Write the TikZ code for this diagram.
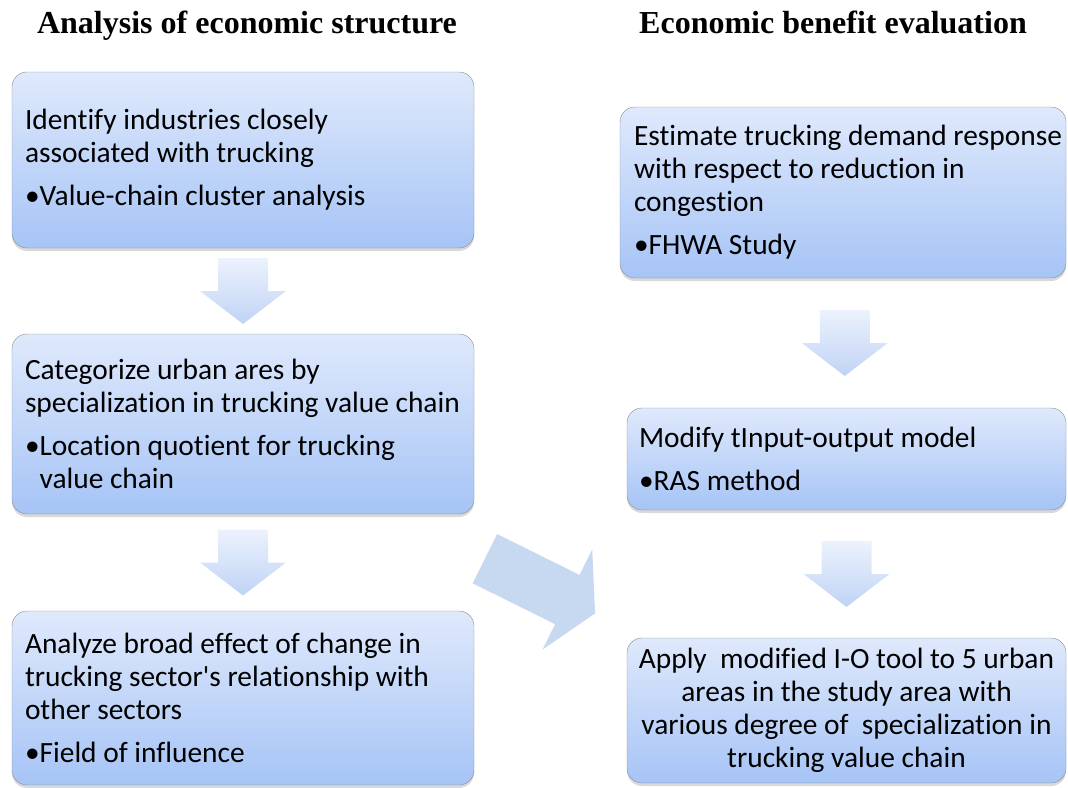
\documentclass[tikz,border=0pt]{standalone}
\usepackage{fontspec}
\setmainfont{Carlito}[Ligatures=NoCommon]
\newfontfamily\headfont{Liberation Serif}
\usetikzlibrary{positioning,calc,shadows}

\definecolor{boxtop}{RGB}{223,233,252}
\definecolor{boxbot}{RGB}{166,196,246}
\definecolor{boxline}{RGB}{140,140,140}
\definecolor{arrtop}{RGB}{236,242,253}
\definecolor{arrbot}{RGB}{192,211,245}
\definecolor{jumpblue}{RGB}{198,217,240}

\tikzset{
	stage/.style={draw=boxline, rounded corners=15pt, top color=boxtop, bottom color=boxbot,
		drop shadow={opacity=0.3, shadow xshift=0pt, shadow yshift=-3pt}},
	stagetext/.style={inner sep=0pt, align=left, font=\fontsize{29.4}{33}\selectfont},
	heading/.style={font=\headfont\bfseries\fontsize{32}{36}\selectfont, inner sep=0pt, anchor=base},
	pics/downarrow/.style={code={
		\shade[top color=arrtop, bottom color=arrbot] (-25,-33) -- (25,-33) -- (25,0) -- (43,0) -- (0,33) -- (-43,0) -- (-25,0) -- cycle;
	}}
}

\begin{document}
\begin{tikzpicture}[x=1pt,y=-1pt]
		\useasboundingbox (0,0) rectangle (1068,787);

		\node[heading] (lhead) at (247,33) {Analysis of economic structure};
		\node[heading] (rhead) at (833,33) {Economic benefit evaluation};

		% left column
		\node[stage, minimum width=462pt, minimum height=176pt] (l1) at (243,160) {};
		\node[stage, minimum width=462pt, minimum height=180pt] (l2) at (243,424) {};
		\node[stage, minimum width=462pt, minimum height=174pt] (l3) at (243,698) {};
		\node[stagetext, right=13pt of l1.west] (l1txt) {Identify industries closely\\ associated with trucking\\[10pt] •Value-chain cluster analysis};
		\node[stagetext, right=13pt of l2.west] (l2txt) {Categorize urban ares by\\ specialization in trucking value chain\\[10pt] •Location quotient for trucking\\ \hphantom{•}value chain};
		\node[stagetext, right=13pt of l3.west] (l3txt) {Analyze broad effect of change in\\ trucking sector\textquotesingle s relationship with\\ other sectors\\[10pt] •Field of influence};

		% right column
		\node[stage, minimum width=446pt, minimum height=171pt] (r1) at (843,192.5) {};
		\node[stage, minimum width=439pt, minimum height=102pt] (r2) at (846.5,459) {};
		\node[stage, minimum width=439pt, minimum height=145pt] (r3) at (846.5,710.5) {};
		\node[stagetext, right=14pt of r1.west] (r1txt) {Estimate trucking demand response\\ with respect to reduction in\\ congestion\\[10pt] •FHWA Study};
		\node[stagetext, right=12pt of r2.west] (r2txt) {Modify tInput-output model\\[10pt] •RAS method};
		\node[stagetext, align=center] (r3txt) at (r3) {Apply\ \ modified I-O tool to 5 urban\\ areas in the study area with\\ various degree of\ \ specialization in\\ trucking value chain};

		\foreach \a/\b in {l1/l2, l2/l3, r1/r2, r2/r3}{
			\pic at ($(\a.south)!0.5!(\b.north)$) {downarrow};
		}

		% arrow across the columns
		\coordinate (jump) at (540,586);
		\fill[jumpblue, shift={(jump)}, rotate=-26.4] (-61.5,-27.5) -- (30.5,-27.5) -- (30.5,-56) -- (61.5,0) -- (30.5,56) -- (30.5,27.5) -- (-61.5,27.5) -- cycle;
\end{tikzpicture}
\end{document}
